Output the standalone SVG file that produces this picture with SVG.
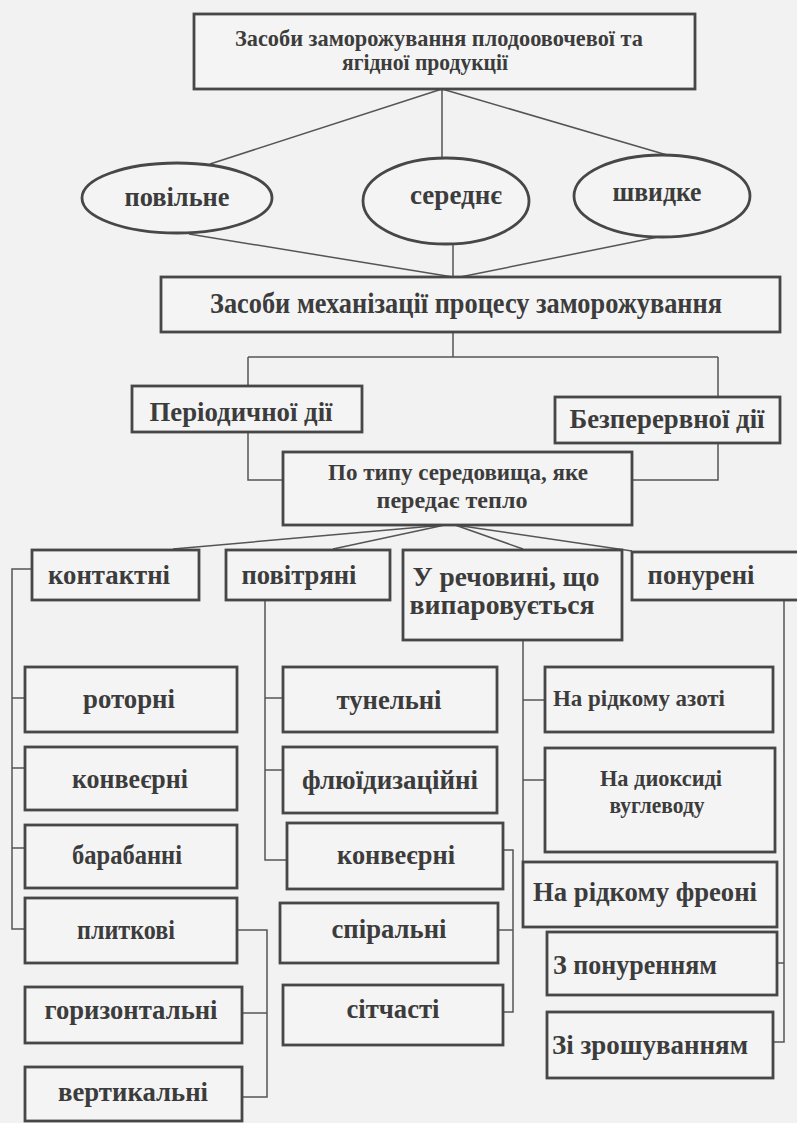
<svg xmlns="http://www.w3.org/2000/svg" width="797" height="1123" viewBox="0 0 797 1123">
<style>
.b{fill:#f4f4f4;stroke:#474747;stroke-width:2.8}
.c{fill:none;stroke:#555;stroke-width:1.5}
.t{font-family:"Liberation Serif","Times New Roman",serif;font-weight:bold;fill:#3c3c3c;text-anchor:middle;font-size:27px}
.s{font-size:23px}
.m{font-size:24px}
.l{font-size:29px}
</style>
<rect x="0" y="0" width="797" height="1123" fill="#f2f2f2"/>
<g id="connectors" class="c">
<path d="M442,89 L210,164 M442,89 V158 M442,89 L667,155"/>
<path d="M189,234 L453,277 M453,243 V277 M663,236 L460,277"/>
<path d="M453,332 V357 M248,357 H718 M248,357 V386 M718,357 V397"/>
<path d="M248,432 V480 H283"/>
<path d="M718,443 V480 H632"/>
<path d="M445,525 L173,549 M445,525 L333,549 M455,525 L523,549 M455,525 L632,551"/>
<path d="M32,569 H12 V929 H25 M12,698 H25 M12,768 H25 M12,848 H25"/>
<path d="M237,930 H267 V1097 H242 M242,1013 H267"/>
<path d="M265,600 V860 H287 M265,698 H283 M265,770 H283"/>
<path d="M503,850 H513 V1012 H503 M498,930 H513"/>
<path d="M523,640 V862 M523,700 H545 M523,780 H545"/>
<path d="M784,600 V1042 H773 M777,963 H784"/>
</g>
<g id="n-root"><rect class="b" x="194" y="14" width="501" height="75"/>
<text class="t s" x="439" y="46" textLength="408" lengthAdjust="spacingAndGlyphs">Засоби заморожування плодоовочевої та</text>
<text class="t s" x="425" y="70" textLength="166" lengthAdjust="spacingAndGlyphs">ягідної продукції</text></g>
<g id="n-povilne"><ellipse class="b" cx="177" cy="198" rx="95" ry="35"/>
<text class="t" x="177" y="206" textLength="105" lengthAdjust="spacingAndGlyphs">повільне</text></g>
<g id="n-serednie"><ellipse class="b" cx="446" cy="201" rx="83" ry="43"/>
<text class="t" x="456" y="204" textLength="92" lengthAdjust="spacingAndGlyphs">середнє</text></g>
<g id="n-shvydke"><ellipse class="b" cx="662" cy="196" rx="88" ry="41"/>
<text class="t" x="657" y="201" textLength="89" lengthAdjust="spacingAndGlyphs">швидке</text></g>
<g id="n-mech"><rect class="b" x="161" y="277" width="619" height="55"/>
<text class="t l" x="466" y="313" textLength="512" lengthAdjust="spacingAndGlyphs">Засоби механізації процесу заморожування</text></g>
<g id="n-period"><rect class="b" x="132" y="386" width="230" height="46"/>
<text class="t" x="241" y="421" textLength="183" lengthAdjust="spacingAndGlyphs">Періодичної дії</text></g>
<g id="n-bezper"><rect class="b" x="555" y="397" width="225" height="46"/>
<text class="t" x="667" y="428" textLength="195" lengthAdjust="spacingAndGlyphs">Безперервної дії</text></g>
<g id="n-potypu"><rect class="b" x="283" y="452" width="349" height="73"/>
<text class="t m" x="458" y="480" textLength="260" lengthAdjust="spacingAndGlyphs">По типу середовища, яке</text>
<text class="t m" x="452" y="508" textLength="151" lengthAdjust="spacingAndGlyphs">передає тепло</text></g>
<g id="n-kontaktni"><rect class="b" x="32" y="550" width="167" height="50"/>
<text class="t" x="109" y="584" textLength="122" lengthAdjust="spacingAndGlyphs">контактні</text></g>
<g id="n-povitriani"><rect class="b" x="226" y="550" width="164" height="50"/>
<text class="t" x="299" y="584" textLength="115" lengthAdjust="spacingAndGlyphs">повітряні</text></g>
<g id="n-urechovyni"><rect class="b" x="403" y="550" width="219" height="90"/>
<text class="t" x="506" y="586" textLength="187" lengthAdjust="spacingAndGlyphs">У речовині, що</text>
<text class="t" x="502" y="614" textLength="185" lengthAdjust="spacingAndGlyphs">випаровується</text></g>
<g id="n-ponureni"><rect class="b" x="632" y="552" width="172" height="48"/>
<text class="t" x="701" y="584" textLength="107" lengthAdjust="spacingAndGlyphs">понурені</text></g>
<g id="n-rotorni"><rect class="b" x="25" y="667" width="212" height="65"/>
<text class="t" x="129" y="708" textLength="92" lengthAdjust="spacingAndGlyphs">роторні</text></g>
<g id="n-konveierni1"><rect class="b" x="25" y="747" width="212" height="63"/>
<text class="t" x="130" y="788" textLength="116" lengthAdjust="spacingAndGlyphs">конвеєрні</text></g>
<g id="n-barabanni"><rect class="b" x="25" y="825" width="212" height="63"/>
<text class="t" x="127" y="864" textLength="110" lengthAdjust="spacingAndGlyphs">барабанні</text></g>
<g id="n-plytkovi"><rect class="b" x="25" y="898" width="212" height="65"/>
<text class="t" x="126" y="939" textLength="98" lengthAdjust="spacingAndGlyphs">плиткові</text></g>
<g id="n-horyzont"><rect class="b" x="25" y="987" width="217" height="56"/>
<text class="t" x="131" y="1019" textLength="173" lengthAdjust="spacingAndGlyphs">горизонтальні</text></g>
<g id="n-vertyk"><rect class="b" x="25" y="1067" width="217" height="54"/>
<text class="t" x="133" y="1101" textLength="150" lengthAdjust="spacingAndGlyphs">вертикальні</text></g>
<g id="n-tunelni"><rect class="b" x="283" y="667" width="214" height="65"/>
<text class="t" x="389" y="709" textLength="105" lengthAdjust="spacingAndGlyphs">тунельні</text></g>
<g id="n-fluid"><rect class="b" x="283" y="747" width="214" height="66"/>
<text class="t" x="390" y="789" textLength="176" lengthAdjust="spacingAndGlyphs">флюїдизаційні</text></g>
<g id="n-konveierni2"><rect class="b" x="287" y="823" width="216" height="66"/>
<text class="t" x="396" y="864" textLength="118" lengthAdjust="spacingAndGlyphs">конвеєрні</text></g>
<g id="n-spiralni"><rect class="b" x="280" y="903" width="218" height="60"/>
<text class="t" x="389" y="938" textLength="115" lengthAdjust="spacingAndGlyphs">спіральні</text></g>
<g id="n-sitchasti"><rect class="b" x="283" y="985" width="220" height="60"/>
<text class="t" x="393" y="1018" textLength="93" lengthAdjust="spacingAndGlyphs">сітчасті</text></g>
<g id="n-azot"><rect class="b" x="545" y="667" width="228" height="65"/>
<text class="t m" x="639" y="706" textLength="172" lengthAdjust="spacingAndGlyphs">На рідкому азоті</text></g>
<g id="n-dioksyd"><rect class="b" x="545" y="748" width="230" height="104"/>
<text class="t m" x="661" y="786" textLength="122" lengthAdjust="spacingAndGlyphs">На диоксиді</text>
<text class="t m" x="657" y="813" textLength="95" lengthAdjust="spacingAndGlyphs">вуглеводу</text></g>
<g id="n-freon"><rect class="b" x="523" y="862" width="254" height="65"/>
<text class="t" x="645" y="901" textLength="224" lengthAdjust="spacingAndGlyphs">На рідкому фреоні</text></g>
<g id="n-ponurenniam"><rect class="b" x="547" y="932" width="230" height="63"/>
<text class="t" x="635" y="974" textLength="164" lengthAdjust="spacingAndGlyphs">З понуренням</text></g>
<g id="n-zroshuvanniam"><rect class="b" x="547" y="1012" width="226" height="66"/>
<text class="t" x="650" y="1054" textLength="196" lengthAdjust="spacingAndGlyphs">Зі зрошуванням</text></g>
</svg>
